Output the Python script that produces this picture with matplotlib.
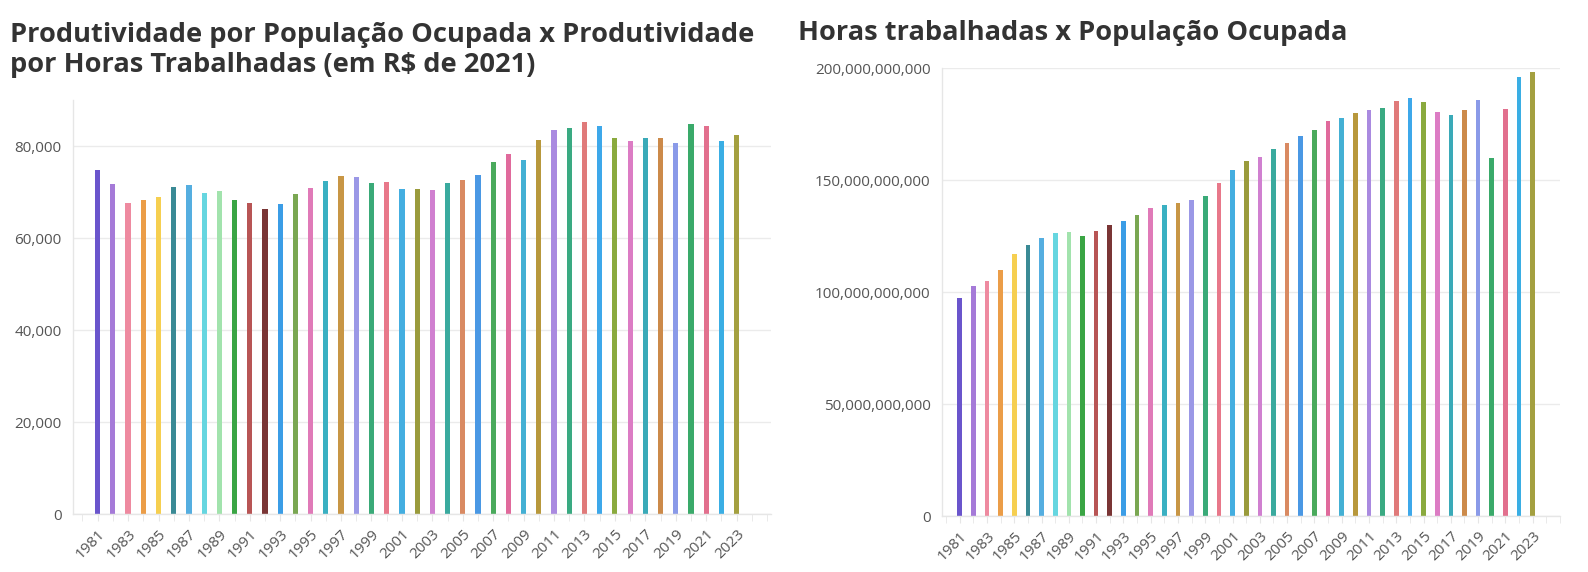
import numpy as np
import matplotlib
matplotlib.use("Agg")
import matplotlib.pyplot as plt
from matplotlib.ticker import FuncFormatter, MultipleLocator

# --- data ---
anos = list(range(1981, 2024))

produtividade = [
    74800, 71800, 67700, 68200, 68900, 71100, 71500, 69850, 70300, 68200,
    67700, 66300, 67500, 69500, 70800, 72450, 73500, 73200, 71900, 72100,
    70650, 70650, 70400, 71950, 72700, 73700, 76500, 78200, 77000, 81400,
    83550, 84000, 85150, 84400, 81700, 81000, 81750, 81750, 80700, 84800,
    84400, 81000, 82400,
]

horas_bi = [
    97.5, 102.5, 104.7, 109.9, 117.0, 120.9, 124.0, 126.4, 126.6, 124.9,
    127.3, 130.0, 131.5, 134.5, 137.5, 138.9, 139.8, 141.2, 143.0, 148.8,
    154.6, 158.3, 160.2, 164.0, 166.3, 169.5, 172.3, 176.5, 177.8, 179.9,
    181.4, 182.1, 185.3, 186.7, 185.0, 180.5, 179.0, 181.4, 185.9, 159.6,
    181.7, 196.1, 198.1,
]
horas = [v * 1e9 for v in horas_bi]

cores = [
    "#6a55cc", "#a57ad8", "#ee8aa0", "#eb9d48", "#f6cf50", "#3a8a95", "#55aee0",
    "#66d6e0", "#a2e3ad", "#3aa544", "#b85555", "#7a3535", "#3b9de6", "#7aa752",
    "#e07ab8", "#3ab0c2", "#c89645", "#9b98e6", "#3aaa78", "#e8788a", "#44aee0",
    "#9a9b3c", "#d080d0", "#3aaa9e", "#d98a62", "#4a98e4", "#4aaa5c", "#e06a9c",
    "#44b0d4", "#b8983c", "#aa8ae0", "#3aaa82", "#e07a7a", "#3ea8ea", "#8aaa3e",
    "#dc7cc4", "#3aaab8", "#cc8a4a", "#8a9ae8", "#3aaa6a", "#e2708e", "#3aaee4",
    "#a4a040",
]

plt.rcParams["font.family"] = ["Open Sans", "DejaVu Sans"]

W, H = 1588, 572
fig = plt.figure(figsize=(W / 100, H / 100), dpi=100)


def px_axes(x0, y_top, x1, y_bottom):
    return fig.add_axes([x0 / W, 1 - y_bottom / H, (x1 - x0) / W, (y_bottom - y_top) / H])


def style_axes(ax, xlim, ylim, fmt):
    ax.set_xlim(*xlim)
    ax.set_ylim(*ylim)
    ax.yaxis.set_major_formatter(FuncFormatter(fmt))
    ax.grid(axis="y", color="#ebebeb", linewidth=1)
    ax.set_axisbelow(True)
    for s in ["top", "right"]:
        ax.spines[s].set_visible(False)
    for s in ["left", "bottom"]:
        ax.spines[s].set_color("#e6e6e6")
        ax.spines[s].set_linewidth(1)
    ax.xaxis.set_minor_locator(MultipleLocator(1))
    ax.tick_params(axis="y", length=0, labelsize=11, labelcolor="#555555", pad=8)
    ax.tick_params(axis="x", which="both", length=5, color="#e6e6e6",
                   labelsize=11, labelcolor="#555555", pad=4)
    ax.set_xticks(anos[::2])
    ax.set_xticklabels([str(a) for a in anos[::2]], rotation=45, ha="right",
                       rotation_mode="anchor")


# --- left chart ---
ax1 = px_axes(72.7, 100, 771, 514)
ax1.bar(anos, produtividade, width=0.34, color=cores)
style_axes(ax1, (1979.36, 2025.26), (0, 90000), lambda v, p: f"{v:,.0f}")
ax1.yaxis.set_major_locator(MultipleLocator(20000))

# --- right chart ---
ax2 = px_axes(941.7, 68, 1560, 516)
ax2.bar(anos, horas, width=0.34, color=cores)
style_axes(ax2, (1979.68, 2025.0), (0, 200e9), lambda v, p: f"{v:,.0f}")
ax2.yaxis.set_major_locator(MultipleLocator(50e9))

fig.text(10 / W, 1 - 72 / H, "Produtividade por População Ocupada x Produtividade\n"
         "por Horas Trabalhadas (em R$ de 2021)", fontsize=19.6, fontweight="bold",
         color="#333333", va="baseline", linespacing=1.2)
fig.text(798 / W, 1 - 40 / H, "Horas trabalhadas x População Ocupada", fontsize=19.6,
         fontweight="bold", color="#333333", va="baseline")

fig.savefig("out.png", dpi=100, facecolor="white")
